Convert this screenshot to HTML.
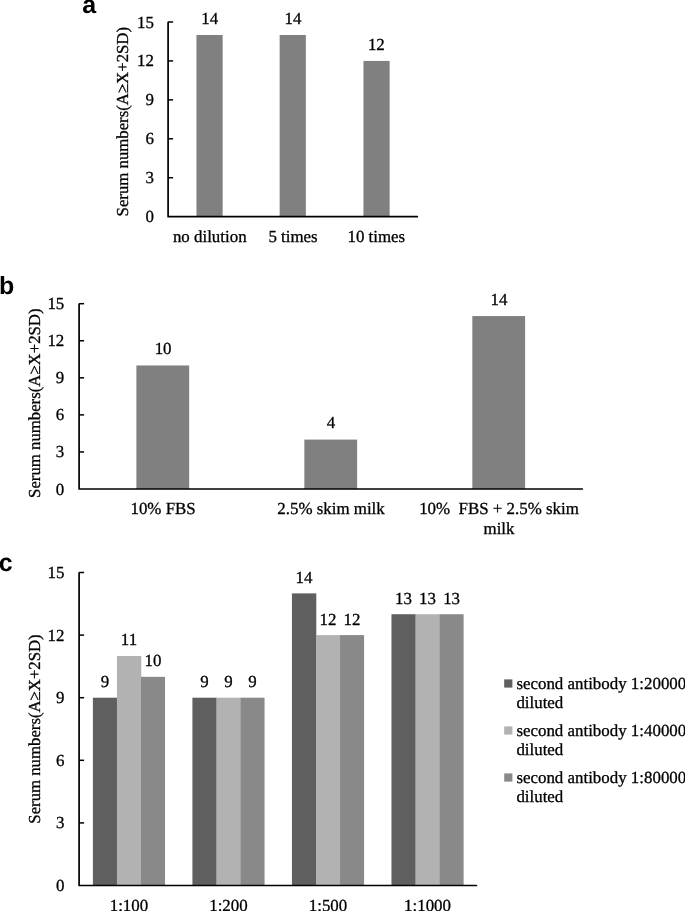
<!DOCTYPE html>
<html lang="en"><head><meta charset="utf-8"><title>Figure</title>
<style>
html,body{margin:0;padding:0;background:#fff;}
body{width:685px;height:911px;overflow:hidden;}
svg{display:block;will-change:transform;filter:grayscale(1);}
text{font-family:"Liberation Serif","Times New Roman",serif;font-size:16.9px;fill:#000;stroke:#000;stroke-width:0.3px;text-rendering:geometricPrecision;}
.pl{font-family:"Liberation Sans",Arial,sans-serif;font-weight:bold;font-size:25px;stroke:none;}
.ax{stroke:#000;stroke-width:1.7;stroke-linejoin:round;stroke-linecap:round;fill:none;}
.tk{stroke:#000;stroke-width:1.5;stroke-linecap:butt;fill:none;}
</style></head><body>
<svg width="685" height="911" viewBox="0 0 685 911">
<rect x="0" y="0" width="685" height="911" fill="#fff"/>
<text class="pl" x="82.2" y="13.0">a</text>
<text x="153.90" y="222.15" text-anchor="end">0</text>
<text x="153.90" y="183.22" text-anchor="end">3</text>
<text x="153.90" y="144.29" text-anchor="end">6</text>
<text x="153.90" y="105.36" text-anchor="end">9</text>
<text x="153.90" y="66.43" text-anchor="end">12</text>
<text x="153.90" y="27.50" text-anchor="end">15</text>
<text transform="translate(127.90 121.70) rotate(-90)" text-anchor="middle" style="font-size:16.75px">Serum numbers(A≥X+2SD)</text>
<rect x="196.45" y="34.98" width="26.2" height="181.67" fill="#808080"/>
<text x="209.75" y="23.68" text-anchor="middle">14</text>
<text x="209.75" y="242.20" text-anchor="middle">no dilution</text>
<rect x="279.65" y="34.98" width="26.2" height="181.67" fill="#808080"/>
<text x="293.05" y="23.68" text-anchor="middle">14</text>
<text x="293.05" y="242.20" text-anchor="middle">5 times</text>
<rect x="363.45" y="60.93" width="26.2" height="155.72" fill="#808080"/>
<text x="376.35" y="49.63" text-anchor="middle">12</text>
<text x="376.35" y="242.20" text-anchor="middle">10 times</text>
<text class="pl" x="-1.0" y="293.5">b</text>
<text x="64.30" y="494.50" text-anchor="end">0</text>
<text x="64.30" y="457.44" text-anchor="end">3</text>
<text x="64.30" y="420.38" text-anchor="end">6</text>
<text x="64.30" y="383.32" text-anchor="end">9</text>
<text x="64.30" y="346.26" text-anchor="end">12</text>
<text x="64.30" y="309.20" text-anchor="end">15</text>
<text transform="translate(39.80 403.20) rotate(-90)" text-anchor="middle" style="font-size:16.75px">Serum numbers(A≥X+2SD)</text>
<rect x="136.38" y="365.47" width="52.8" height="123.53" fill="#808080"/>
<text x="163.08" y="354.27" text-anchor="middle">10</text>
<text x="163.08" y="514.40" text-anchor="middle">10% FBS</text>
<rect x="304.35" y="439.59" width="52.8" height="49.41" fill="#808080"/>
<text x="331.05" y="428.39" text-anchor="middle">4</text>
<text x="331.05" y="514.40" text-anchor="middle">2.5% skim milk</text>
<rect x="472.32" y="316.05" width="52.8" height="172.95" fill="#808080"/>
<text x="499.02" y="304.85" text-anchor="middle">14</text>
<text x="499.02" y="514.40" text-anchor="middle">10%  FBS + 2.5% skim</text>
<text x="499.02" y="533.70" text-anchor="middle">milk</text>
<text class="pl" x="-1.3" y="571.0">c</text>
<text x="64.50" y="891.00" text-anchor="end">0</text>
<text x="64.50" y="828.40" text-anchor="end">3</text>
<text x="64.50" y="765.80" text-anchor="end">6</text>
<text x="64.50" y="703.20" text-anchor="end">9</text>
<text x="64.50" y="640.60" text-anchor="end">12</text>
<text x="64.50" y="578.00" text-anchor="end">15</text>
<text transform="translate(39.80 729.00) rotate(-90)" text-anchor="middle" style="font-size:16.75px">Serum numbers(A≥X+2SD)</text>
<rect x="92.89" y="697.70" width="24.35" height="187.80" fill="#5f5f5f"/>
<text x="104.91" y="687.10" text-anchor="middle">9</text>
<rect x="116.94" y="655.97" width="24.35" height="229.53" fill="#b2b2b2"/>
<text x="128.96" y="645.37" text-anchor="middle">11</text>
<rect x="140.99" y="676.83" width="24.05" height="208.67" fill="#898989"/>
<text x="153.01" y="666.23" text-anchor="middle">10</text>
<text x="128.96" y="911.20" text-anchor="middle">1:100</text>
<rect x="192.41" y="697.70" width="24.35" height="187.80" fill="#5f5f5f"/>
<text x="204.44" y="687.10" text-anchor="middle">9</text>
<rect x="216.46" y="697.70" width="24.35" height="187.80" fill="#b2b2b2"/>
<text x="228.49" y="687.10" text-anchor="middle">9</text>
<rect x="240.51" y="697.70" width="24.05" height="187.80" fill="#898989"/>
<text x="252.54" y="687.10" text-anchor="middle">9</text>
<text x="228.49" y="911.20" text-anchor="middle">1:200</text>
<rect x="291.94" y="593.37" width="24.35" height="292.13" fill="#5f5f5f"/>
<text x="303.96" y="582.77" text-anchor="middle">14</text>
<rect x="315.99" y="635.10" width="24.35" height="250.40" fill="#b2b2b2"/>
<text x="328.01" y="624.50" text-anchor="middle">12</text>
<rect x="340.04" y="635.10" width="24.05" height="250.40" fill="#898989"/>
<text x="352.06" y="624.50" text-anchor="middle">12</text>
<text x="328.01" y="911.20" text-anchor="middle">1:500</text>
<rect x="391.46" y="614.23" width="24.35" height="271.27" fill="#5f5f5f"/>
<text x="403.49" y="603.63" text-anchor="middle">13</text>
<rect x="415.51" y="614.23" width="24.35" height="271.27" fill="#b2b2b2"/>
<text x="427.54" y="603.63" text-anchor="middle">13</text>
<rect x="439.56" y="614.23" width="24.05" height="271.27" fill="#898989"/>
<text x="451.59" y="603.63" text-anchor="middle">13</text>
<text x="427.54" y="911.20" text-anchor="middle">1:1000</text>
<rect x="504.2" y="679.40" width="8.2" height="8.2" fill="#5f5f5f"/>
<text x="516.4" y="689.00">second antibody 1:20000</text>
<text x="516.4" y="707.80">diluted</text>
<rect x="504.2" y="726.40" width="8.2" height="8.2" fill="#b2b2b2"/>
<text x="516.4" y="736.00">second antibody 1:40000</text>
<text x="516.4" y="754.80">diluted</text>
<rect x="504.2" y="773.40" width="8.2" height="8.2" fill="#898989"/>
<text x="516.4" y="783.00">second antibody 1:80000</text>
<text x="516.4" y="801.80">diluted</text>
<path class="ax" d="M168.10 22.40 V216.65 H417.30"/>
<path class="tk" d="M168.10 177.72 h5.00"/>
<path class="tk" d="M168.10 138.79 h5.00"/>
<path class="tk" d="M168.10 99.86 h5.00"/>
<path class="tk" d="M168.10 60.93 h5.00"/>
<path class="tk" d="M168.10 22.00 h5.00"/>
<path class="ax" d="M79.10 304.10 V489.00 H582.30"/>
<path class="tk" d="M79.10 451.94 h5.00"/>
<path class="tk" d="M79.10 414.88 h5.00"/>
<path class="tk" d="M79.10 377.82 h5.00"/>
<path class="tk" d="M79.10 340.76 h5.00"/>
<path class="tk" d="M79.10 303.70 h5.00"/>
<path class="ax" d="M79.10 572.90 V885.50 H476.50"/>
<path class="tk" d="M79.10 822.90 h5.00"/>
<path class="tk" d="M79.10 760.30 h5.00"/>
<path class="tk" d="M79.10 697.70 h5.00"/>
<path class="tk" d="M79.10 635.10 h5.00"/>
<path class="tk" d="M79.10 572.50 h5.00"/>
</svg></body></html>
